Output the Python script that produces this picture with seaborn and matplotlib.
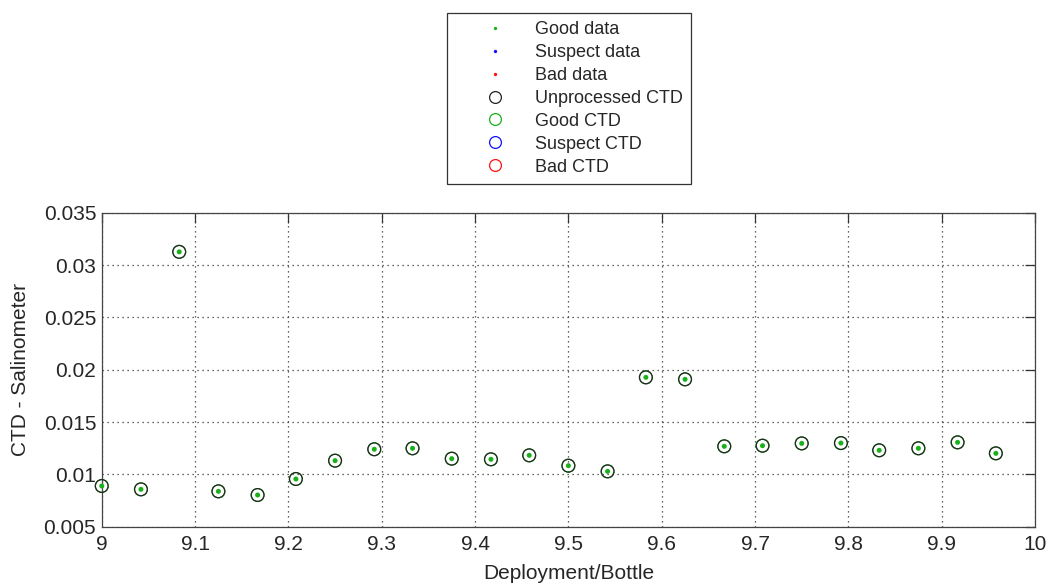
import numpy as np
import pandas as pd
import matplotlib
matplotlib.use("Agg")
import matplotlib.pyplot as plt
from matplotlib.lines import Line2D
from matplotlib.ticker import FuncFormatter, MultipleLocator
import seaborn as sns

# Deployment 9, bottles 1..24 (x = deployment + bottle fraction)
deployment_bottle = [9.000, 9.042, 9.083, 9.125, 9.167, 9.208, 9.250, 9.292,
                     9.333, 9.375, 9.417, 9.458, 9.500, 9.542, 9.583, 9.625,
                     9.667, 9.708, 9.750, 9.792, 9.833, 9.875, 9.917, 9.958]
# CTD minus salinometer salinity difference
ctd_minus_sal = [0.00889, 0.00857, 0.03126, 0.00838, 0.00803, 0.00956, 0.01131, 0.01240,
                 0.01249, 0.01150, 0.01144, 0.01182, 0.01083, 0.01029, 0.01927, 0.01908,
                 0.01268, 0.01274, 0.01296, 0.01299, 0.01230, 0.01249, 0.01306, 0.01201]
legend_labels = ["Good data", "Suspect data", "Bad data", "Unprocessed CTD",
                 "Good CTD", "Suspect CTD", "Bad CTD"]

df = pd.DataFrame({"x": deployment_bottle, "y": ctd_minus_sal})

GREEN = "#19b019"
BLUE = "#1010ff"
RED = "#ff1010"

sns.set_style("white")
plt.rcParams["font.family"] = ["Liberation Sans", "DejaVu Sans"]

fig = plt.figure(figsize=(10.49, 5.84), dpi=100)
ax = fig.add_axes([0.0970, 0.0981, 0.8897, 0.5377])

# Good CTD circle, unprocessed CTD circle on top, good data dot in the centre
sns.scatterplot(data=df, x="x", y="y", ax=ax, marker="o", s=85,
                facecolor="none", edgecolor=GREEN, linewidth=0.9, zorder=3,
                legend=False, clip_on=False)
sns.scatterplot(data=df, x="x", y="y", ax=ax, marker="o", s=85,
                facecolor="none", edgecolor="#262626", linewidth=0.9, zorder=4,
                legend=False, clip_on=False)
sns.scatterplot(data=df, x="x", y="y", ax=ax, marker="o", s=13,
                color=GREEN, edgecolor="none", zorder=5, legend=False, clip_on=False)

ax.set_xlim(9, 10)
ax.set_ylim(0.005, 0.035)
ax.xaxis.set_major_locator(MultipleLocator(0.1))
ax.yaxis.set_major_locator(MultipleLocator(0.005))
ax.xaxis.set_major_formatter(FuncFormatter(lambda v, p: f"{round(v, 4):g}"))
ax.yaxis.set_major_formatter(FuncFormatter(lambda v, p: f"{round(v, 5):g}"))

ax.grid(True, linestyle=(0, (1, 3)), color="#333333", linewidth=0.9)
ax.set_axisbelow(True)
for s in ax.spines.values():
    s.set_color("#444444")
    s.set_linewidth(0.9)
    s.set_visible(True)
ax.tick_params(direction="in", length=7, width=0.9, color="#333333",
               top=True, right=True, labelsize=15, pad=6)
ax.tick_params(axis="y", pad=4)

ax.set_xlabel("Deployment/Bottle", fontsize=15, labelpad=7)
ax.set_ylabel("CTD - Salinometer", fontsize=15, labelpad=10)

handles = [
    Line2D([], [], linestyle="none", marker="o", markersize=2.4, color=GREEN, markeredgewidth=0),
    Line2D([], [], linestyle="none", marker="o", markersize=2.4, color=BLUE, markeredgewidth=0),
    Line2D([], [], linestyle="none", marker="o", markersize=2.4, color=RED, markeredgewidth=0),
    Line2D([], [], linestyle="none", marker="o", markersize=8.5, markerfacecolor="none",
           markeredgecolor="#222222", markeredgewidth=0.9),
    Line2D([], [], linestyle="none", marker="o", markersize=8.5, markerfacecolor="none",
           markeredgecolor=GREEN, markeredgewidth=0.9),
    Line2D([], [], linestyle="none", marker="o", markersize=8.5, markerfacecolor="none",
           markeredgecolor=BLUE, markeredgewidth=0.9),
    Line2D([], [], linestyle="none", marker="o", markersize=8.5, markerfacecolor="none",
           markeredgecolor=RED, markeredgewidth=0.9),
]
leg = fig.legend(handles, legend_labels, loc="upper center",
                 bbox_to_anchor=(0.5424, 0.978), fontsize=13, frameon=True,
                 fancybox=False, shadow=False, framealpha=1, edgecolor="#333333",
                 borderpad=0.45, labelspacing=0.33, handlelength=4.4, handletextpad=0.0,
                 borderaxespad=0)
leg.get_frame().set_linewidth(0.9)

fig.savefig("out.png", dpi=100)
